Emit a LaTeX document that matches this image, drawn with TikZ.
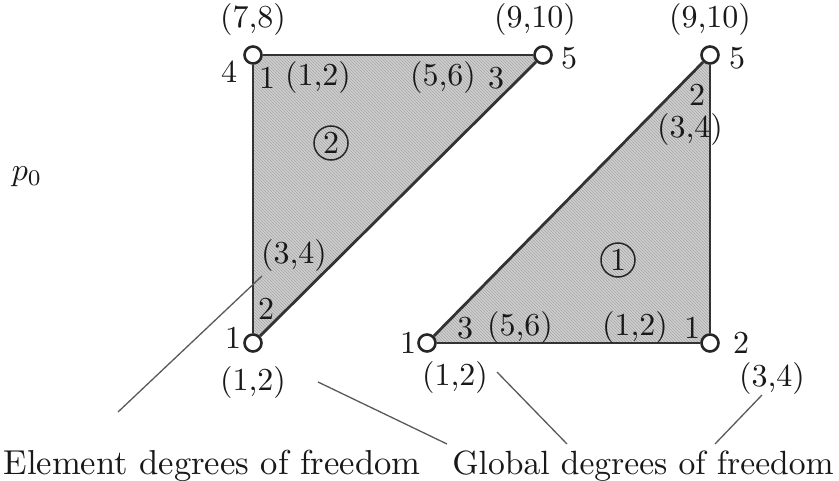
\documentclass[tikz,border=0pt]{standalone}
\usetikzlibrary{patterns}
\begin{document}
\begin{tikzpicture}[x=1pt,y=-1pt,
  every node/.style={font=\fontsize{10}{12}\selectfont, inner sep=0pt, text=black!90},
  txt/.style={scale=3.2},
  captxt/.style={scale=3.36},
  vtx/.style={circle, draw=black!85, line width=2.6pt, fill=white, minimum size=17pt, inner sep=0pt},
  edge/.style={line width=2.8pt, draw=black!80},
  elem/.style={fill=gray!38, postaction={pattern=north west lines, pattern color=gray!70}},
  lead/.style={line width=1.3pt, draw=black!65},
  cnum/.style={circle, draw=black!85, line width=1.5pt, minimum size=34pt, inner sep=0pt}]
\useasboundingbox (0,0) rectangle (839,481);
% vertex positions
\coordinate (A4) at (253,55);
\coordinate (A5) at (543,55);
\coordinate (A1) at (253,343);
\coordinate (B5) at (710,55);
\coordinate (B1) at (427,343);
\coordinate (B2) at (710,343);
% element fills
\fill[elem] (A4) -- (A5) -- (A1) -- cycle;
\fill[elem] (B5) -- (B1) -- (B2) -- cycle;
% vertices
\node[vtx] (a4) at (A4) {};
\node[vtx] (a5) at (A5) {};
\node[vtx] (a1) at (A1) {};
\node[vtx] (b5) at (B5) {};
\node[vtx] (b1) at (B1) {};
\node[vtx] (b2) at (B2) {};
% edges
\draw[edge] (a4) -- (a5);
\draw[edge] (a5) -- (a1);
\draw[edge] (a1) -- (a4);
\draw[edge] (b5) -- (b1);
\draw[edge] (b1) -- (b2);
\draw[edge] (b2) -- (b5);
% left element labels
\node[txt] (l78) at (253,20) {(7,8)};
\node[txt] (ln4) at (229,72) {4};
\node[txt] (le1) at (267,78) {1};
\node[txt] (le12) at (318,78) {(1,2)};
\node[txt] (le56) at (443,78) {(5,6)};
\node[txt] (le3) at (496,78) {3};
\node[txt] (l910) at (535,20) {(9,10)};
\node[txt] (ln5) at (569,58) {5};
\node[cnum] (c2) at (331,143) {\scalebox{3.2}{2}};
\node[txt] (le34) at (294,256) {(3,4)};
\node[txt] (le2) at (266,309) {2};
\node[txt] (ln1) at (233,338) {1};
\node[txt] (lg12) at (253,383) {(1,2)};
% right element labels
\node[txt] (r910) at (710,20) {(9,10)};
\node[txt] (rn5) at (737,58) {5};
\node[txt] (re2) at (697,95) {2};
\node[txt] (re34) at (690,130) {(3,4)};
\node[cnum] (c1) at (618,260) {\scalebox{3.2}{1}};
\node[txt] (re3) at (465,328) {3};
\node[txt] (re56) at (520,328) {(5,6)};
\node[txt] (re12) at (635,328) {(1,2)};
\node[txt] (re1) at (692,328) {1};
\node[txt] (rn1) at (408,343) {1};
\node[txt] (rn2) at (741,343) {2};
\node[txt] (rg12) at (455,377) {(1,2)};
\node[txt] (rg34) at (772,378) {(3,4)};
% p0
\node[txt] (p0) at (27,177) {$p_0$};
% captions
\node[captxt, scale=1.03] (elt) at (212,466) {Element degrees of freedom};
\node[captxt] (glb) at (643,466) {Global degrees of freedom};
% leader lines
\coordinate (e1s) at (118,412);
\coordinate (e1t) at (262,276);
\coordinate (e2s) at (447,444);
\coordinate (e2t) at (318,382);
\coordinate (g1s) at (567,444);
\coordinate (g1t) at (497,372);
\coordinate (g2s) at (715,444);
\coordinate (g2t) at (762,395);
\draw[lead] (e1s) -- (e1t);
\draw[lead] (e2s) -- (e2t);
\draw[lead] (g1s) -- (g1t);
\draw[lead] (g2s) -- (g2t);
\end{tikzpicture}
\end{document}
